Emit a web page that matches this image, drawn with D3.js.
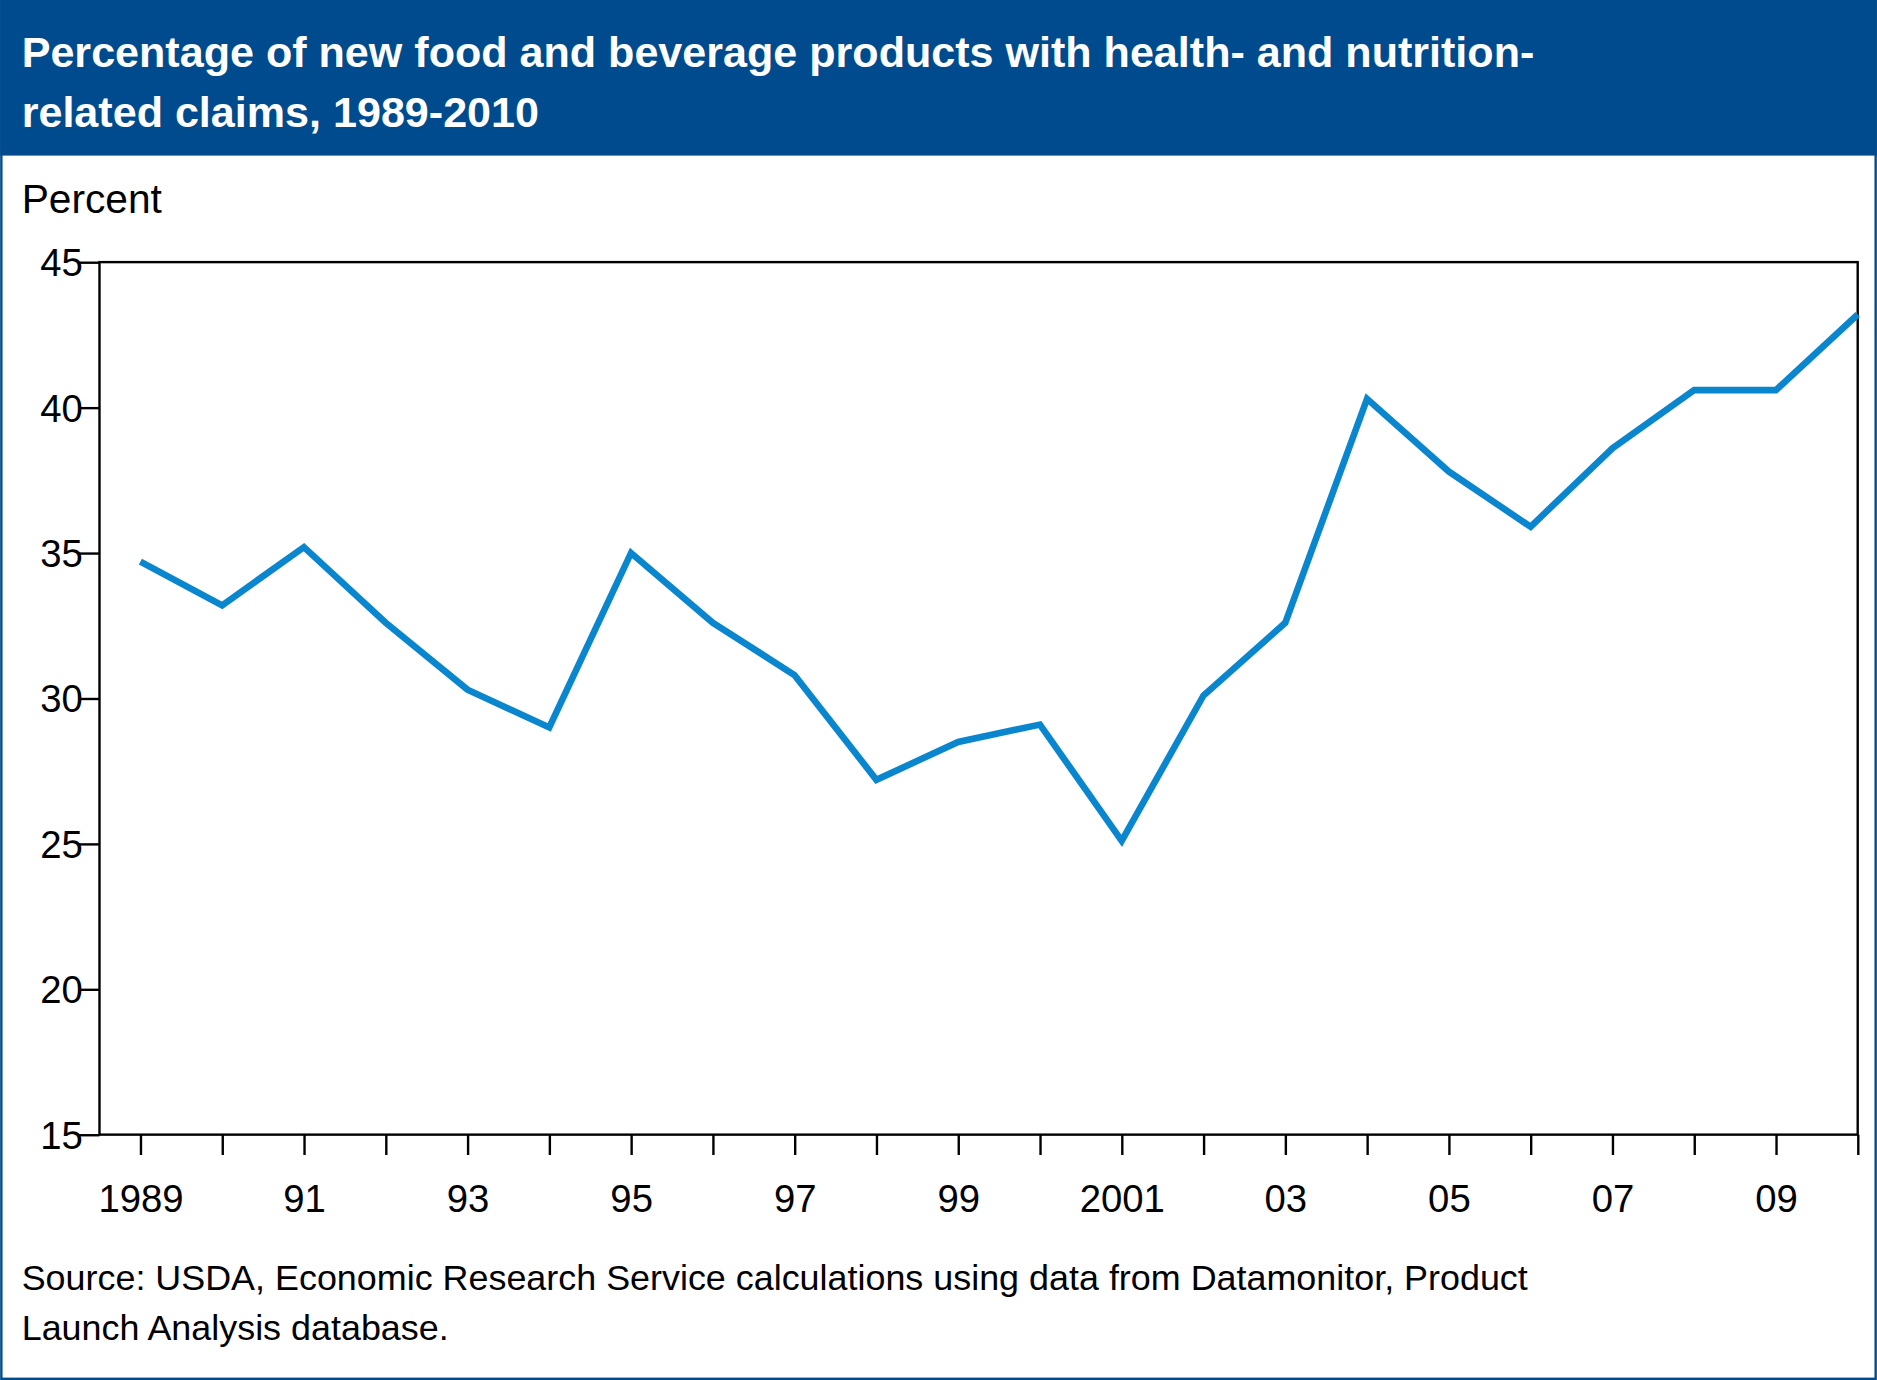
<!DOCTYPE html>
<html><head><meta charset="utf-8">
<script src="https://cdn.jsdelivr.net/npm/d3@7"></script>
<style>body{margin:0;background:#fff}svg{display:block;font-family:"Liberation Sans",Arial,sans-serif}</style>
</head><body>
<svg id="c" width="1877" height="1380" viewBox="0 0 1568 1153"></svg>
<script>
const years=[1989,1990,1991,1992,1993,1994,1995,1996,1997,1998,1999,2000,2001,2002,2003,2004,2005,2006,2007,2008,2009,2010];
const values=[34.7,33.2,35.2,32.6,30.3,29.0,35.0,32.6,30.8,27.2,28.5,29.1,25.1,30.1,32.6,40.3,37.8,35.9,38.6,40.6,40.6,43.2];
const yTicks=[15,20,25,30,35,40,45];
const xLabels={1989:"1989",1991:"91",1993:"93",1995:"95",1997:"97",1999:"99",2001:"2001",2003:"03",2005:"05",2007:"07",2009:"09"};
const svg=d3.select("#c");
const blue="#004b8d";
svg.append("rect").attr("x",1).attr("y",1).attr("width",1566).attr("height",1151).attr("fill","#fff").attr("stroke",blue).attr("stroke-width",2);
svg.append("rect").attr("x",0).attr("y",0).attr("width",1568).attr("height",130).attr("fill",blue);
const t=svg.append("text").attr("fill","#fff").attr("font-weight","bold").attr("font-size",36);
t.append("tspan").attr("x",18).attr("y",56).text("Percentage of new food and beverage products with health- and nutrition-");
t.append("tspan").attr("x",18).attr("y",106).text("related claims, 1989-2010");
svg.append("text").attr("x",18).attr("y",178).attr("font-size",34).text("Percent");
const L=83,R=1552,T=219,B=948;
const x=d3.scaleLinear().domain([1988.5,2010]).range([L,R]);
const y=d3.scaleLinear().domain([15,45]).range([B,T]);
svg.append("rect").attr("x",L).attr("y",T).attr("width",R-L).attr("height",B-T).attr("fill","none").attr("stroke","#000").attr("stroke-width",2);
const ya=svg.append("g").attr("transform",`translate(${L},0)`).call(d3.axisLeft(y).tickValues(yTicks).tickSize(17).tickSizeOuter(0));
ya.select(".domain").remove();
ya.selectAll("line").attr("stroke-width",2);
ya.selectAll("text").attr("font-size",32).attr("fill","#000").attr("font-family","Liberation Sans,Arial").attr("dx",6).attr("dy","0.35em").attr("x",-20);
const xa=svg.append("g").attr("transform",`translate(0,${B})`).call(d3.axisBottom(x).tickValues(years).tickSize(17).tickSizeOuter(0).tickFormat(d=>xLabels[d]||""));
xa.select(".domain").remove();
xa.selectAll("line").attr("stroke-width",2);
xa.selectAll("text").attr("font-size",32).attr("fill","#000").attr("font-family","Liberation Sans,Arial").attr("y",42);
svg.append("path").datum(years.map((d,i)=>[d,values[i]])).attr("fill","none").attr("stroke","#0a86cf").attr("stroke-width",5.5).attr("stroke-linejoin","miter")
 .attr("d",d3.line().x(d=>x(d[0])).y(d=>y(d[1])));
const s=svg.append("text").attr("font-size",30);
s.append("tspan").attr("x",18).attr("y",1078).text("Source: USDA, Economic Research Service calculations using data from Datamonitor, Product");
s.append("tspan").attr("x",18).attr("y",1120).text("Launch Analysis database.");
</script></body></html>
